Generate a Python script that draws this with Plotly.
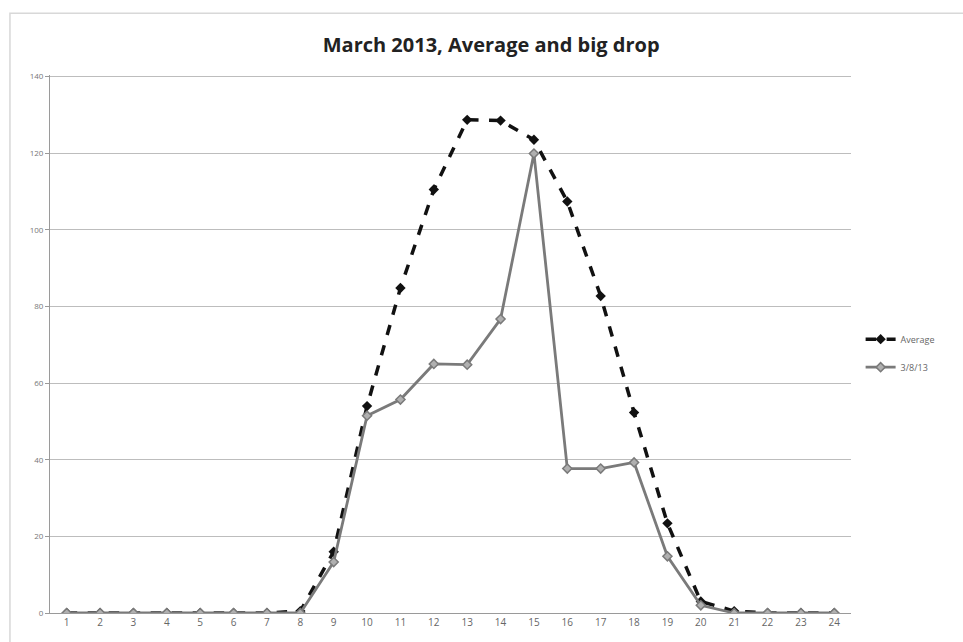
import plotly.graph_objects as go

# Hours of the day on the x axis
hours = list(range(1, 25))
hour_labels = [str(h) for h in hours]

# Average output per hour for the month
average = [0, 0, 0, 0, 0, 0, 0, 0.5, 16, 54, 84.8, 110.5, 128.7, 128.5, 123.5,
           107.4, 82.7, 52.3, 23.4, 3, 0.5, 0, 0, 0]

# The day with the big drop
drop_day = [0, 0, 0, 0, 0, 0, 0, 0, 13.3, 51.5, 55.7, 65, 64.8, 76.7, 119.9,
            37.7, 37.7, 39.3, 14.8, 2, 0, 0, 0, 0]

y_ticks = [0, 20, 40, 60, 80, 100, 120, 140]

fig = go.Figure()

fig.add_trace(go.Scatter(
    x=hours, y=average, name="Average", mode="lines+markers",
    legendgroup="avg",
    line=dict(color="#111111", width=3.5, dash="dash"),
    marker=dict(symbol="diamond", size=8, color="#111111"),
))
fig.add_trace(go.Scatter(
    x=hours, y=drop_day, name="3/8/13", mode="lines+markers",
    legendgroup="day",
    line=dict(color="#7a7a7a", width=2.8),
    marker=dict(symbol="diamond", size=7, color="#b0b0b0",
                line=dict(color="#7a7a7a", width=1.5)),
))

fig.update_layout(
    width=963, height=642,
    paper_bgcolor="white", plot_bgcolor="white",
    margin=dict(l=50, r=112, t=75, b=29),
    font=dict(family="Open Sans, sans-serif", color="#666666", size=9),
    title=dict(text="<b>March 2013, Average and big drop</b>",
               x=0.51, xref="container", xanchor="center",
               y=0.93, yref="container", yanchor="middle",
               font=dict(size=20, color="#222222", family="Open Sans, sans-serif")),
    showlegend=True,
    legend=dict(x=1.012, y=0.483, xanchor="left", yanchor="middle",
                font=dict(size=9, color="#666666"), itemwidth=30,
                traceorder="grouped", tracegroupgap=9,
                bgcolor="rgba(0,0,0,0)"),
    xaxis=dict(range=[0.5, 24.5], tickvals=hours, ticktext=hour_labels,
               showgrid=False, zeroline=False,
               showline=True, linecolor="#9a9a9a", linewidth=1,
               ticks="", tickfont=dict(size=10, color="#666666")),
    yaxis=dict(range=[0, 140.4], tickvals=y_ticks, showgrid=True,
               gridcolor="#bdbdbd", gridwidth=1, zeroline=False,
               showline=True, linecolor="#9a9a9a", linewidth=1,
               ticks="outside", ticklen=4, tickcolor="#9a9a9a",
               tickfont=dict(size=8, color="#777777")),
    shapes=[dict(type="rect", xref="paper", yref="paper",
                 x0=-0.05, x1=1.2, y0=-0.07, y1=1.115,
                 line=dict(color="#d8d8d8", width=1.5), layer="below")],
)

fig.write_html("out.html")
